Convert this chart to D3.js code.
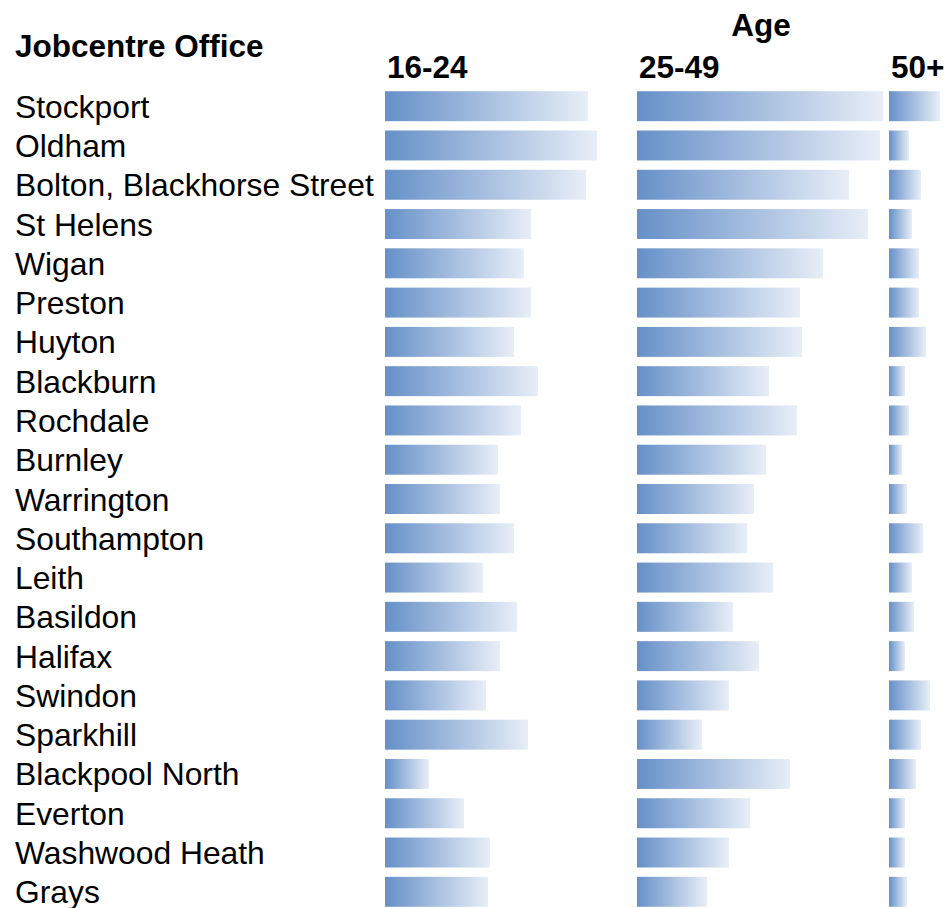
<!DOCTYPE html>
<html><head><meta charset="utf-8">
<script src="https://cdn.jsdelivr.net/npm/d3@7"></script>
<style>body{margin:0;background:#fff}svg{display:block}text{font-family:"Liberation Sans",Arial,sans-serif;fill:#000}</style>
</head><body><svg id="c" width="947" height="908"></svg>
<script>
const offices = ["Stockport","Oldham","Bolton, Blackhorse Street","St Helens","Wigan","Preston","Huyton","Blackburn","Rochdale","Burnley","Warrington","Southampton","Leith","Basildon","Halifax","Swindon","Sparkhill","Blackpool North","Everton","Washwood Heath","Grays"];
const ageGroups = ["16-24","25-49","50+"];
const age16_24 = [203,212,201,146,139,146,129,153,136,113,115,129,98,132,115,101,143,44,79,105,103];
const age25_49 = [246,243,212,231,186,163,165,132,160,129,117,110,136,96,122,92,65,153,113,92,70];
const age50plus = [51,20,32,23,30,30,37,16,20,13,18,34,23,25,16,41,32,27,16,16,18];
const series = [age16_24, age25_49, age50plus];

const svg = d3.select("#c");
const defs = svg.append("defs");
const grad = defs.append("linearGradient").attr("id","g").attr("x1","0").attr("x2","1").attr("y1","0").attr("y2","0");
grad.append("stop").attr("offset","0").attr("stop-color","#6690c8");
grad.append("stop").attr("offset","1").attr("stop-color","#e8eef7");

const y = d3.scaleBand().domain(offices).range([86.5, 911.5]).paddingInner(0.237).paddingOuter(0.12);
const panelX = d3.scaleBand().domain(ageGroups).range([385, 1141]);
const x = d3.scaleLinear().domain([0, 250]).range([0, 250]);

svg.append("text").attr("x",15).attr("y",57).attr("font-size",31.5).attr("font-weight","bold").text("Jobcentre Office");
svg.append("text").attr("x",761).attr("y",36).attr("text-anchor","middle").attr("font-size",31.5).attr("font-weight","bold").text("Age");

svg.append("g").selectAll("text").data(offices).join("text")
  .attr("x",15).attr("y",d=>y(d)+y.bandwidth()/2+11.5).attr("font-size",31.8).text(d=>d);

ageGroups.forEach((ag,i)=>{
  const g = svg.append("g").attr("transform",`translate(${panelX(ag)},0)`);
  g.append("text").attr("x",2).attr("y",78).attr("font-size",31.5).attr("font-weight","bold").text(ag);
  g.selectAll("rect").data(series[i]).join("rect")
    .attr("x",0).attr("y",(d,j)=>y(offices[j])).attr("height",y.bandwidth())
    .attr("width",d=>x(d)).attr("fill","url(#g)");
});
</script></body></html>
